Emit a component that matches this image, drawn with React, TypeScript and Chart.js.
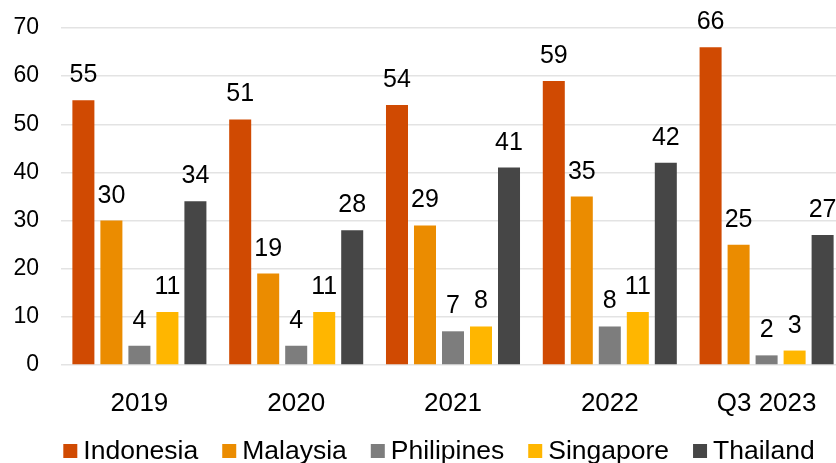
import { useEffect, useRef } from 'react';
import { Chart, registerables } from 'chart.js';

Chart.register(...registerables);

const categories = ['2019', '2020', '2021', '2022', 'Q3 2023'];
const seriesNames = ['Indonesia', 'Malaysia', 'Philipines', 'Singapore', 'Thailand'];
const indonesia = [55, 51, 54, 59, 66];
const malaysia = [30, 19, 29, 35, 25];
const philipines = [4, 4, 7, 8, 2];
const singapore = [11, 11, 8, 11, 3];
const thailand = [34, 28, 41, 42, 27];
const seriesColors = ['#D04A02', '#EB8C00', '#7D7D7D', '#FFB600', '#464646'];
const yMin = 0;
const yMax = 70;
const yStep = 10;

const FONT = "'Liberation Sans', Arial, sans-serif";

const dataLabelPlugin = {
  id: 'dataLabels',
  afterDatasetsDraw(chart: any) {
    const ctx = chart.ctx;
    ctx.save();
    ctx.font = `25px ${FONT}`;
    ctx.fillStyle = '#000';
    ctx.textAlign = 'center';
    ctx.textBaseline = 'alphabetic';
    chart.data.datasets.forEach((ds: any, i: number) => {
      const meta = chart.getDatasetMeta(i);
      meta.data.forEach((bar: any, j: number) => {
        ctx.fillText(String(ds.data[j]), bar.x, bar.y - 18);
      });
    });
    ctx.restore();
  },
};

const legendPlugin = {
  id: 'customLegend',
  afterDraw(chart: any) {
    const ctx = chart.ctx;
    ctx.save();
    ctx.font = `26.5px ${FONT}`;
    const box = 14;
    const gapText = 6;
    const gapItem = 24;
    const items = chart.data.datasets.map((ds: any) => ({
      label: ds.label,
      color: ds.backgroundColor,
      w: box + gapText + ctx.measureText(ds.label).width,
    }));
    const total = items.reduce((s: number, it: any) => s + it.w, 0) + gapItem * (items.length - 1);
    const center = (chart.chartArea.left + chart.chartArea.right) / 2 - 14;
    let x = center - total / 2;
    const cy = 451;
    items.forEach((it: any) => {
      ctx.fillStyle = it.color;
      ctx.fillRect(x, cy - box / 2, box, box);
      ctx.fillStyle = '#000';
      ctx.textAlign = 'left';
      ctx.textBaseline = 'middle';
      ctx.fillText(it.label, x + box + gapText, cy + 1);
      x += it.w + gapItem;
    });
    ctx.restore();
  },
};

export default function App() {
  const ref = useRef<HTMLCanvasElement | null>(null);

  useEffect(() => {
    document.body.style.margin = '0';
    document.documentElement.style.overflow = 'hidden';
    const seriesData = [indonesia, malaysia, philipines, singapore, thailand];
    const chart = new Chart(ref.current as HTMLCanvasElement, {
      type: 'bar',
      data: {
        labels: categories,
        datasets: seriesNames.map((name, i) => ({
          label: name,
          data: seriesData[i],
          backgroundColor: seriesColors[i],
          borderWidth: 0,
          categoryPercentage: 0.893,
          barPercentage: 0.786,
        })),
      },
      options: {
        animation: false,
        responsive: true,
        maintainAspectRatio: false,
        layout: { padding: { top: 28, left: 0, right: 0, bottom: 0 } },
        plugins: {
          legend: { display: false },
          tooltip: { enabled: false },
        },
        scales: {
          x: {
            grid: { display: false },
            border: { display: false },
            ticks: {
              color: '#000',
              font: { family: FONT, size: 26 },
              padding: 15,
              maxRotation: 0,
            },
            afterFit: (scale: any) => {
              scale.height = 98;
            },
          },
          y: {
            min: yMin,
            max: yMax,
            grid: {
              color: '#e3e3e3',
              lineWidth: 1.5,
              drawTicks: true,
              tickLength: 20,
              tickColor: 'rgba(0,0,0,0)',
            },
            border: { display: false },
            ticks: {
              stepSize: yStep,
              color: '#000',
              font: { family: FONT, size: 23 },
              padding: 2,
            },
            afterFit: (scale: any) => {
              scale.width = 61;
            },
          },
        },
      },
      plugins: [dataLabelPlugin, legendPlugin],
    });
    return () => chart.destroy();
  }, []);

  return (
    <div style={{ width: 836, height: 463, overflow: 'hidden', position: 'relative' }}>
      <div style={{ width: 845, height: 463, position: 'relative' }}>
        <canvas ref={ref} />
      </div>
    </div>
  );
}
